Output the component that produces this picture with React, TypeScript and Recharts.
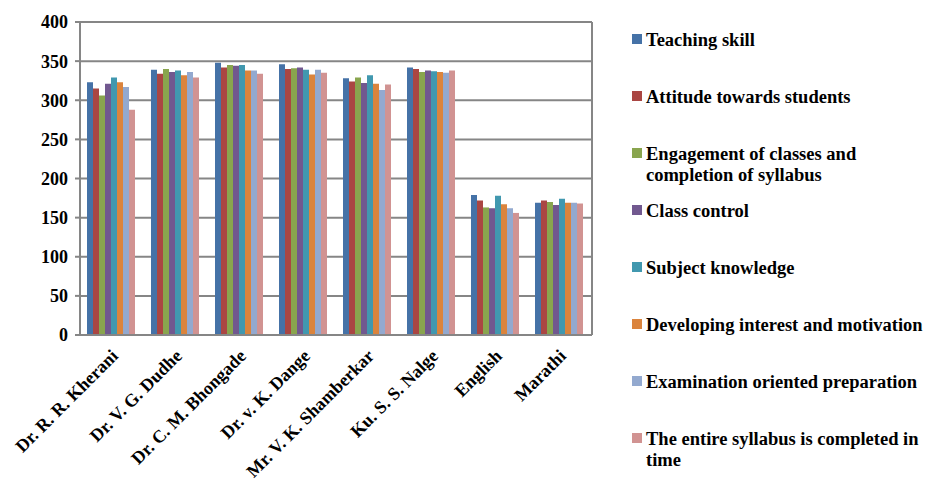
import { BarChart, Bar, XAxis, YAxis, CartesianGrid } from 'recharts';

const categories = [
  'Dr. R. R. Kherani',
  'Dr. V. G. Dudhe',
  'Dr. C. M. Bhongade',
  'Dr. v. K. Dange',
  'Mr. V. K. Shamberkar',
  'Ku. S. S. Nalge',
  'English',
  'Marathi',
];

const teachingSkill = [323, 339, 348, 346, 328, 342, 179, 169];
const attitude = [315, 334, 342, 340, 324, 340, 172, 172];
const engagement = [306, 340, 345, 341, 329, 336, 163, 170];
const classControl = [321, 336, 344, 342, 322, 338, 162, 166];
const subjectKnowledge = [329, 338, 345, 339, 332, 337, 178, 174];
const developing = [323, 332, 338, 333, 321, 336, 167, 169];
const examination = [317, 336, 338, 339, 313, 335, 162, 169];
const entireSyllabus = [288, 329, 334, 335, 320, 338, 156, 168];

const yTicks = [0, 50, 100, 150, 200, 250, 300, 350, 400];

const series = [
  { key: 'teaching', name: 'Teaching skill', values: teachingSkill, color: '#4572A7' },
  { key: 'attitude', name: 'Attitude towards students', values: attitude, color: '#AA4643' },
  { key: 'engagement', name: 'Engagement of classes and completion of syllabus', values: engagement, color: '#89A54E' },
  { key: 'control', name: 'Class control', values: classControl, color: '#71588F' },
  { key: 'subject', name: 'Subject knowledge', values: subjectKnowledge, color: '#4198AF' },
  { key: 'developing', name: 'Developing interest and motivation', values: developing, color: '#DB843D' },
  { key: 'exam', name: 'Examination oriented preparation', values: examination, color: '#93A9CF' },
  { key: 'entire', name: 'The entire syllabus is completed in time', values: entireSyllabus, color: '#D19392' },
];

const data = categories.map((name, i) => {
  const row: Record<string, string | number> = { name };
  series.forEach((s) => {
    row[s.key] = s.values[i];
  });
  return row;
});

const font = '"Liberation Serif", "Times New Roman", serif';

function XTick(props: any) {
  const { x, y, payload } = props;
  const ax = x - 2;
  const ay = y + 5;
  return (
    <text
      x={ax}
      y={ay}
      textAnchor="end"
      dominantBaseline="hanging"
      transform={`rotate(-45, ${ax}, ${ay})`}
      fontFamily={font}
      fontWeight="bold"
      fontSize={18}
      fill="#000"
    >
      {payload.value}
    </text>
  );
}

export default function App() {
  return (
    <div style={{ position: 'absolute', left: 0, top: 0, width: 926, height: 486, background: '#fff' }}>
      <BarChart
        width={926}
        height={486}
        data={data}
        margin={{ top: 22, right: 334, bottom: 11, left: 8 }}
        barCategoryGap={7}
        barGap={0}
      >
        <CartesianGrid
          horizontal={true}
          vertical={true}
          verticalPoints={[592]}
          stroke="#868686"
          strokeWidth={2}
        />
        <XAxis
          dataKey="name"
          height={140}
          interval={0}
          stroke="#868686"
          strokeWidth={2}
          tickLine={false}
          tick={<XTick />}
        />
        <YAxis
          width={72}
          domain={[0, 400]}
          ticks={yTicks}
          stroke="#868686"
          strokeWidth={2}
          tickSize={5}
          tickMargin={7}
          tick={{ fill: '#000', fontSize: 18, fontWeight: 'bold', fontFamily: font }}
        />
        {series.map((s) => (
          <Bar key={s.key} dataKey={s.key} name={s.name} fill={s.color} isAnimationActive={false} />
        ))}
      </BarChart>
      <div
        style={{
          position: 'absolute',
          left: 632,
          top: 30,
          width: 294,
          fontFamily: font,
          fontWeight: 'bold',
          fontSize: 18.5,
          lineHeight: '21px',
          color: '#000',
        }}
      >
        {series.map((s) => (
          <div key={s.key} style={{ display: 'flex', alignItems: 'flex-start', height: 57 }}>
            <span
              style={{
                display: 'inline-block',
                width: 10,
                height: 10,
                background: s.color,
                marginTop: 4,
                marginRight: 4,
                flexShrink: 0,
              }}
            />
            <span style={{ width: 280 }}>{s.name}</span>
          </div>
        ))}
      </div>
    </div>
  );
}
